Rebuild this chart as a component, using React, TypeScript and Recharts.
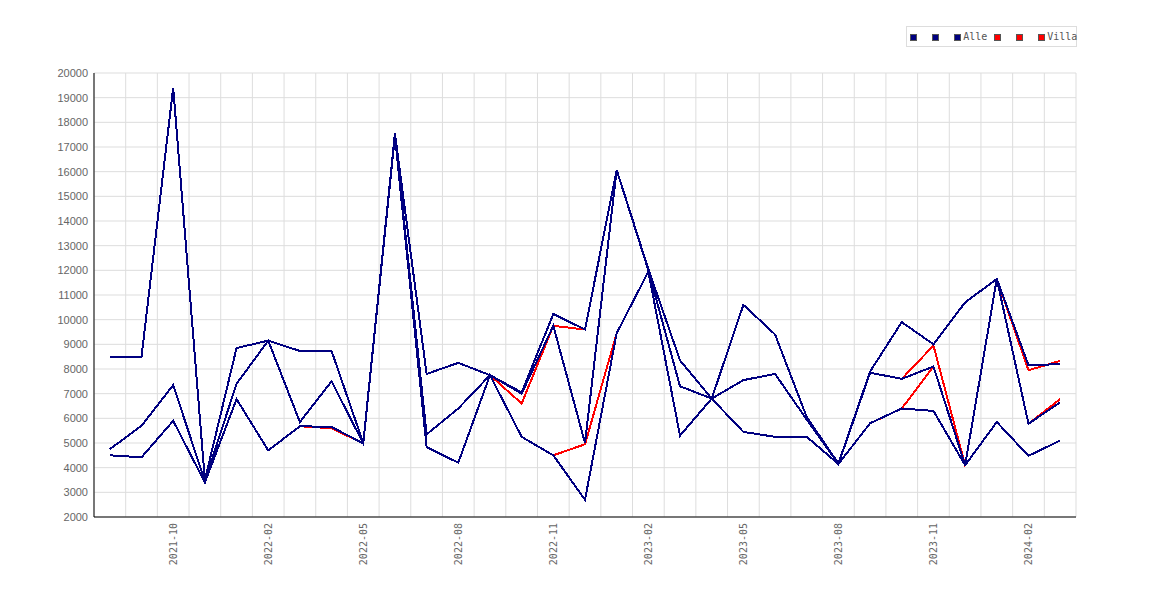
import React from 'react';
import { LineChart, Line, XAxis, YAxis, CartesianGrid } from 'recharts';

// ---- data ----
const months = [
  '2021-08', '2021-09', '2021-10', '2021-12', '2022-01', '2022-02', '2022-03', '2022-04',
  '2022-05', '2022-06', '2022-07', '2022-08', '2022-09', '2022-10', '2022-11', '2022-12',
  '2023-01', '2023-02', '2023-03', '2023-04', '2023-05', '2023-06', '2023-07', '2023-08',
  '2023-09', '2023-10', '2023-11', '2023-12', '2024-01', '2024-02', '2024-03',
];

const tickLabels = [
  '2021-10', '2022-02', '2022-05', '2022-08', '2022-11', '2023-02', '2023-05', '2023-08', '2023-11', '2024-02',
];

const yTicks = [
  2000, 3000, 4000, 5000, 6000, 7000, 8000, 9000, 10000, 11000, 12000, 13000, 14000, 15000, 16000,
  17000, 18000, 19000, 20000,
];

const alleMax = [
  8500, 8500, 19400, 3500, 8850, 9150, 8730, 8730, 5000, 17550, 7800, 8250, 7750, 7050, 10230, 9600,
  16070, 12050, 8350, 6800, 10600, 9400, 6050, 4170, 7900, 9900, 9000, 10700, 11650, 8150, 8200,
];
const alleMid = [
  4750, 5700, 7350, 3450, 7400, 9150, 5850, 7500, 4980, 17500, 5350, 6400, 7750, 7000, 9750, 5000,
  16070, 12000, 7300, 6800, 7550, 7800, 5950, 4150, 7850, 7600, 8100, 4100, 11650, 5780, 6650,
];
const alleMin = [
  4500, 4420, 5900, 3400, 6780, 4700, 5680, 5650, 4980, 17450, 4830, 4200, 7750, 5250, 4500, 2700,
  9450, 11950, 5300, 6800, 5450, 5250, 5250, 4150, 5800, 6400, 6300, 4100, 5850, 4480, 5100,
];

const villaMax = [
  8500, 8500, 19400, 3500, 8850, 9150, 8730, 8730, 5000, 17550, 7800, 8250, 7750, 7050, 10230, 9600,
  16070, 12050, 8350, 6800, 10600, 9400, 6050, 4170, 7900, 9900, 9000, 10700, 11650, 7950, 8330,
];
const villaMid = [
  4750, 5700, 7350, 3450, 7400, 9150, 5850, 7500, 4980, 17500, 5350, 6400, 7750, 6600, 9750, 9600,
  16070, 12000, 7300, 6800, 7550, 7800, 5950, 4150, 7850, 7600, 8950, 4100, 11650, 5780, 6780,
];
const villaMin = [
  4500, 4420, 5900, 3400, 6780, 4700, 5680, 5600, 4980, 17450, 4830, 4200, 7750, 5250, 4500, 4950,
  9450, 11950, 5300, 6800, 5450, 5250, 5250, 4150, 5800, 6400, 8100, 4100, 5850, 4480, 5100,
];

const NAVY = '#000080';
const RED = '#ff0000';

// ---- layout ----
const CHART_W = 1154;
const CHART_H = 584;
const MARGIN = { top: 65, right: 86, bottom: 15, left: 26 };
const Y_AXIS_W = 60;
const X_AXIS_H = 60;
const PLOT_W = CHART_W - MARGIN.left - MARGIN.right - Y_AXIS_W;
const HALF_BAND = PLOT_W / months.length / 2;
const LINE_W = 2;

const data = months.map((m, i) => ({
  month: m,
  alleMax: alleMax[i],
  alleMid: alleMid[i],
  alleMin: alleMin[i],
  villaMax: villaMax[i],
  villaMid: villaMid[i],
  villaMin: villaMin[i],
}));

const XTick = (props: any) => {
  const { x, y, payload } = props;
  if (!tickLabels.includes(payload.value)) return null;
  return (
    <g transform={`translate(${x},${y})`}>
      <text
        transform="rotate(-90)"
        x={-6}
        y={0}
        dy="0.35em"
        textAnchor="end"
        fill="#666"
        fontSize={10}
        fontFamily="'DejaVu Sans Mono', monospace"
      >
        {payload.value}
      </text>
    </g>
  );
};

const gridGenerator = (props: any) => {
  const off = props && props.offset ? props.offset : null;
  const left = off && typeof off.left === 'number' ? off.left : MARGIN.left + Y_AXIS_W;
  const width = off && typeof off.width === 'number' ? off.width : PLOT_W;
  const n = months.length;
  const out: number[] = [];
  for (let i = 0; i <= n; i++) out.push(left + (i * width) / n);
  return out;
};

const Square = ({ color, left }: { color: string; left: number }) => (
  <div
    style={{
      position: 'absolute',
      left,
      top: 7,
      width: 5,
      height: 5,
      background: color,
      border: '1px solid #555',
    }}
  />
);

const LegendBox = () => {
  const textStyle: React.CSSProperties = {
    position: 'absolute',
    top: 3,
    fontFamily: "'DejaVu Sans Mono', monospace",
    fontSize: 10,
    lineHeight: '14px',
    color: '#555',
    whiteSpace: 'nowrap',
  };
  return (
    <div
      style={{
        position: 'absolute',
        left: 897.7,
        top: 18,
        width: 169,
        height: 19,
        border: '1px solid #ddd',
        background: '#fff',
      }}
    >
      <Square color={NAVY} left={3} />
      <Square color={NAVY} left={25} />
      <Square color={NAVY} left={47} />
      <span style={{ ...textStyle, left: 56.5 }}>Alle</span>
      <Square color={RED} left={87} />
      <Square color={RED} left={109} />
      <Square color={RED} left={131} />
      <span style={{ ...textStyle, left: 140.5 }}>Villa</span>
    </div>
  );
};

export default function App() {
  return (
    <div style={{ position: 'relative', width: CHART_W, height: CHART_H, fontFamily: "'Liberation Sans', sans-serif" }}>
      <LineChart width={CHART_W} height={CHART_H} data={data} margin={MARGIN}>
        <CartesianGrid
          stroke="#dddddd"
          strokeWidth={1}
          verticalCoordinatesGenerator={gridGenerator}
        />
        <XAxis
          dataKey="month"
          type="category"
          interval={0}
          height={X_AXIS_H}
          padding={{ left: HALF_BAND, right: HALF_BAND }}
          tick={<XTick />}
          tickLine={false}
          tickSize={0}
          tickMargin={0}
          axisLine={{ stroke: '#000', strokeWidth: 1 }}
        />
        <YAxis
          type="number"
          domain={[2000, 20000]}
          ticks={yTicks}
          interval={0}
          width={Y_AXIS_W}
          tickLine={false}
          tickSize={0}
          tickMargin={6}
          axisLine={{ stroke: '#000', strokeWidth: 1 }}
          tick={{ fill: '#666', fontSize: 11, fontFamily: "'Liberation Sans', Arial, sans-serif" }}
          allowDataOverflow
        />
        <Line type="linear" dataKey="villaMax" name="" stroke={RED} strokeWidth={LINE_W} shapeRendering="crispEdges" dot={false} isAnimationActive={false} />
        <Line type="linear" dataKey="villaMid" name="" stroke={RED} strokeWidth={LINE_W} shapeRendering="crispEdges" dot={false} isAnimationActive={false} />
        <Line type="linear" dataKey="villaMin" name="Villa" stroke={RED} strokeWidth={LINE_W} shapeRendering="crispEdges" dot={false} isAnimationActive={false} />
        <Line type="linear" dataKey="alleMax" name="" stroke={NAVY} strokeWidth={LINE_W} shapeRendering="crispEdges" dot={false} isAnimationActive={false} />
        <Line type="linear" dataKey="alleMid" name="" stroke={NAVY} strokeWidth={LINE_W} shapeRendering="crispEdges" dot={false} isAnimationActive={false} />
        <Line type="linear" dataKey="alleMin" name="Alle" stroke={NAVY} strokeWidth={LINE_W} shapeRendering="crispEdges" dot={false} isAnimationActive={false} />
      </LineChart>
      <LegendBox />
    </div>
  );
}
